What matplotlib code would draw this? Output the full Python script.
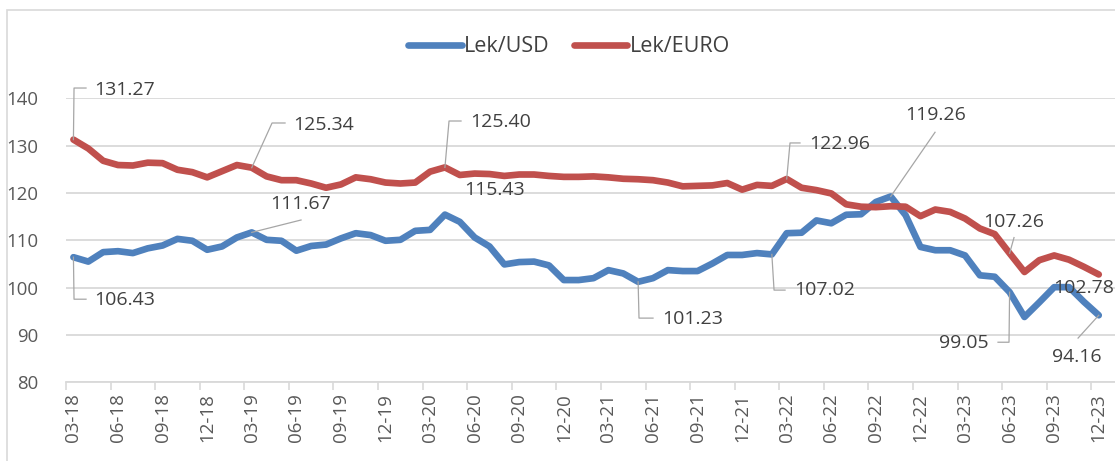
import numpy as np
import pandas as pd
import matplotlib
matplotlib.use('Agg')
import matplotlib.pyplot as plt
from matplotlib.patches import Rectangle

plt.rcParams['font.family'] = ['Open Sans', 'DejaVu Sans']

# monthly categories 03-18 .. 12-23
months = list(pd.period_range('2018-03', '2023-12', freq='M').strftime('%m-%y'))

lek_usd = [106.43, 105.5, 107.5, 107.7, 107.3, 108.3, 108.9, 110.3, 109.9, 108.0,
           108.7, 110.6, 111.67, 110.1, 109.9, 107.8, 108.8, 109.1, 110.4, 111.5,
           111.1, 109.9, 110.1, 112.0, 112.2, 115.43, 113.9, 110.6, 108.7, 104.9,
           105.4, 105.5, 104.7, 101.6, 101.6, 102.0, 103.7, 103.0, 101.23, 102.0,
           103.7, 103.5, 103.5, 105.1, 106.9, 106.9, 107.3, 107.02, 111.5, 111.6,
           114.2, 113.6, 115.4, 115.5, 118.1, 119.26, 115.3, 108.6, 107.9, 107.9,
           106.8, 102.6, 102.3, 99.05, 93.8, 96.9, 100.1, 100.1, 97.0, 94.16]

lek_euro = [131.27, 129.4, 126.8, 125.9, 125.8, 126.4, 126.3, 124.9, 124.4, 123.3,
            124.6, 125.9, 125.34, 123.5, 122.7, 122.7, 122.0, 121.1, 121.8, 123.3,
            122.9, 122.2, 122.0, 122.2, 124.5, 125.40, 123.8, 124.1, 124.0, 123.6,
            123.9, 123.9, 123.6, 123.4, 123.4, 123.5, 123.3, 123.0, 122.9, 122.7,
            122.2, 121.4, 121.5, 121.6, 122.1, 120.7, 121.7, 121.5, 122.96, 121.1,
            120.6, 119.9, 117.6, 117.1, 117.0, 117.2, 117.1, 115.1, 116.5, 116.0,
            114.6, 112.5, 111.3, 107.26, 103.3, 105.8, 106.8, 105.9, 104.4, 102.78]

blue = '#4f81bd'
red = '#c0504d'

# labelled points: index, text offset (px), leader path (px), alignment
usd_labels = [
    (0, (20.6, -43), [(0.6, -42), (12.6, -42)], 'left'),
    (12, (48.8, 28.4), [(49.3, 12.4)], 'center'),
    (25, (49.6, 24.7), [], 'center'),
    (38, (23.9, -37.3), [(0.9, -36.3), (14.9, -36.3)], 'left'),
    (47, (22.2, -35.7), [(2.2, -35.7), (13.2, -35.7)], 'left'),
    (55, (45.3, 81.2), [(44.3, 64.2)], 'center'),
    (63, (-20.6, -51.1), [(-0.6, -50.1), (-11.6, -50.1)], 'right'),
    (69, (-21.7, -41.8), [(-20.7, -22.8)], 'center'),
]
euro_labels = [
    (0, (20.6, 49.6), [(0.6, 51.6), (12.6, 51.6)], 'left'),
    (12, (41.3, 42.7), [(20.3, 44.7), (33.3, 44.7)], 'left'),
    (25, (25.1, 45.4), [(4.1, 46.4), (16.1, 46.4)], 'left'),
    (48, (22.3, 35.0), [(3.3, 36.0), (13.3, 36.0)], 'left'),
    (63, (3.9, 31.7), [(4.4, 15.7)], 'center'),
    (69, (-14.7, -13.5), [], 'center'),
]

W, H = 1115, 461
fig = plt.figure(figsize=(W / 100, H / 100), dpi=100)
ax = fig.add_axes([66 / W, (H - 382.3) / H, (W - 66) / W, (382.3 - 98.3) / H])

# chart border
fig.patches.append(Rectangle((7 / W, -0.1), 1.2, (H - 10) / H + 0.1,
                             transform=fig.transFigure, fill=False,
                             edgecolor='#d9d9d9', lw=1.2))

x = np.arange(len(months))
ax.plot(x, lek_usd, color=blue, lw=4.8, solid_capstyle='round',
        solid_joinstyle='round', label='Lek/USD', zorder=3)
ax.plot(x, lek_euro, color=red, lw=4.8, solid_capstyle='round',
        solid_joinstyle='round', label='Lek/EURO', zorder=3)

ax.set_xlim(-0.5, -0.5 + (W - 66) / 14.86)
ax.set_ylim(80, 140)
ax.set_yticks(range(80, 141, 10))
ax.grid(axis='y', color='#d9d9d9', lw=1.3)
ax.set_axisbelow(True)
for s in ['top', 'right', 'left']:
    ax.spines[s].set_visible(False)
ax.spines['bottom'].set_color('#d9d9d9')
ax.spines['bottom'].set_linewidth(1.3)

ax.set_xticks(x[::3])
ax.set_xticklabels(months[::3], rotation=90)
ax.set_xticks(np.arange(-0.5, len(months) - 1, 3), minor=True)
ax.tick_params(axis='x', which='major', length=0, pad=8, labelsize=13.5,
               labelcolor='#595959')
ax.tick_params(axis='x', which='minor', length=6, color='#d9d9d9', width=1.2)
ax.tick_params(axis='y', length=0, pad=20, labelsize=13.4, labelcolor='#595959')


def put_label(xi, yv, off, leader, ha):
    px, py = ax.transData.transform((xi, yv))
    if leader:
        pts = [(px, py)] + [(px + dx, py + dy) for dx, dy in leader]
        d = ax.transData.inverted().transform(pts)
        ax.plot(d[:, 0], d[:, 1], color='#a6a6a6', lw=0.9, zorder=4, clip_on=False)
    ax.annotate(f'{yv:.2f}', (xi, yv), xytext=off, textcoords='offset pixels',
                ha=ha, va='center', fontsize=14, color='#404040', zorder=5,
                annotation_clip=False)


for i, off, leader, ha in usd_labels:
    put_label(i, lek_usd[i], off, leader, ha)
for i, off, leader, ha in euro_labels:
    put_label(i, lek_euro[i], off, leader, ha)

fig.legend(loc='center', bbox_to_anchor=(569 / W, 1 - 47 / H), ncol=2,
           frameon=False, fontsize=15.5, handlelength=2.5, handletextpad=0.1,
           columnspacing=1.1, labelcolor='#404040')

fig.savefig('out.png', dpi=100)
